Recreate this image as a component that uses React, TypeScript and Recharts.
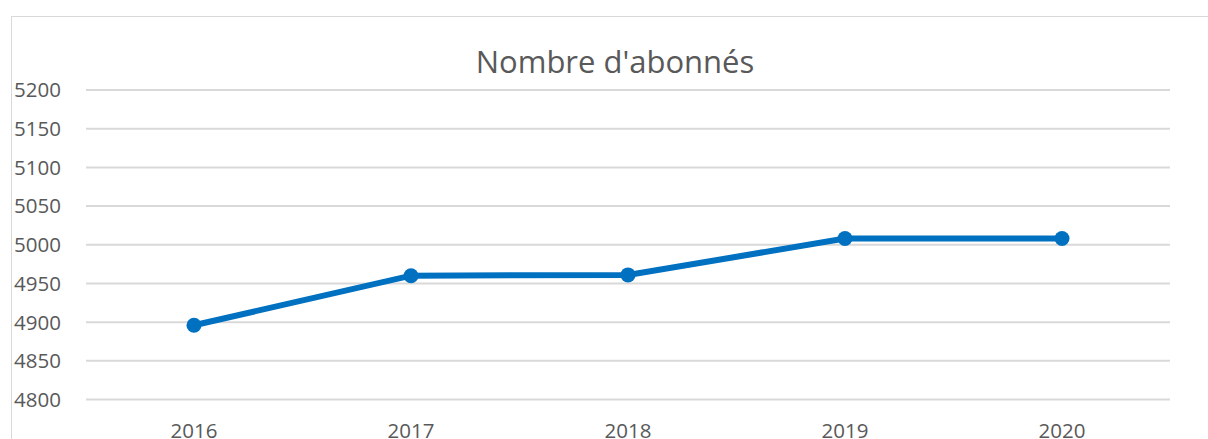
import React from 'react';
import { LineChart, Line, XAxis, YAxis, CartesianGrid } from 'recharts';

const years = ['2016', '2017', '2018', '2019', '2020'];
const subscribers = [4896, 4960, 4961, 5008, 5008];
const yTicks = [4800, 4850, 4900, 4950, 5000, 5050, 5100, 5150, 5200];
const title = "Nombre d'abonnés";

const data = years.map((y, i) => ({ year: y, value: subscribers[i] }));

const FONT = "'Open Sans', 'Noto Sans', sans-serif";
const TEXT = '#595959';

const YTick = (props: any) => {
  const { y, payload } = props;
  return (
    <text x={14} y={y} dy="0.36em" textAnchor="start" fill={TEXT} fontSize={20.5} fontFamily={FONT}>
      {payload.value}
    </text>
  );
};

const XTick = (props: any) => {
  const { x, y, payload } = props;
  return (
    <text x={x} y={y} dy={30} textAnchor="middle" fill={TEXT} fontSize={20.5} fontFamily={FONT}>
      {payload.value}
    </text>
  );
};

export default function App() {
  return (
    <div style={{ position: 'absolute', left: 0, top: 0, width: 1208, height: 439, overflow: 'hidden', background: '#fff' }}>
      <div
        style={{
          position: 'absolute',
          left: 11,
          top: 16,
          width: 1220,
          height: 450,
          border: '1px solid #d9d9d9',
          boxSizing: 'border-box',
        }}
      />
      <div
        style={{
          position: 'absolute',
          left: 415,
          width: 400,
          top: 39,
          textAlign: 'center',
          fontFamily: FONT,
          fontSize: 31,
          color: TEXT,
          lineHeight: '44px',
          whiteSpace: 'nowrap',
        }}
      >
        {title}
      </div>
      <div style={{ position: 'absolute', left: 0, top: 0 }}>
        <LineChart width={1208} height={439} data={data} margin={{ top: 90, right: 38, left: 0, bottom: 9.5 }}>
          <CartesianGrid horizontal vertical={false} stroke="#d9d9d9" strokeWidth={2} />
          <XAxis
            dataKey="year"
            axisLine={false}
            tickLine={false}
            height={30}
            padding={{ left: 108, right: 108 }}
            tick={<XTick />}
            interval={0}
          />
          <YAxis
            width={86}
            domain={[4800, 5200]}
            ticks={yTicks}
            axisLine={false}
            tickLine={false}
            tick={<YTick />}
            interval={0}
          />
          <Line
            type="linear"
            dataKey="value"
            stroke="#0070c0"
            strokeWidth={6}
            dot={{ r: 7.5, fill: '#0070c0', stroke: '#0070c0', strokeWidth: 0 }}
            isAnimationActive={false}
          />
        </LineChart>
      </div>
    </div>
  );
}
